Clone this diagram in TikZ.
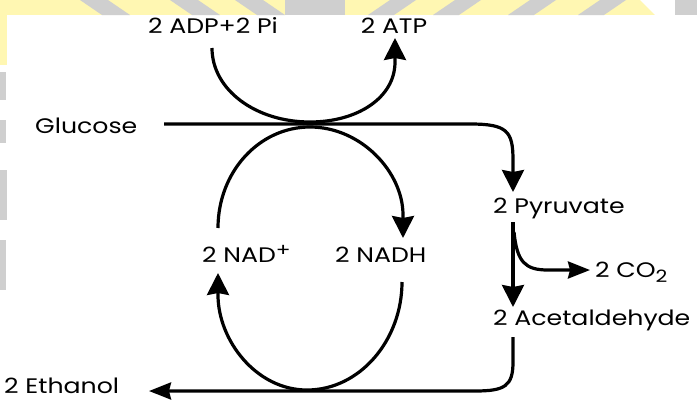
\documentclass[tikz,border=0pt]{standalone}
\usepackage{fontspec}
\setmainfont{Poppins}[FakeStretch=1.2]
\usetikzlibrary{arrows.meta}
\definecolor{wmy}{HTML}{FFF7B2}
\definecolor{wmg}{HTML}{CFCFCF}
\begin{document}
\begin{tikzpicture}[x=1pt,y=-1pt,
  lbl/.style={inner sep=0pt, font=\fontsize{21}{24}\selectfont},
  flow/.style={line width=3.2pt, -{Stealth[length=22pt,width=22pt,inset=2pt]}},
  flown/.style={line width=3.2pt, -{Stealth[length=22pt,width=17pt,inset=2pt]}}]
\useasboundingbox (0,0) rectangle (697,400);
\fill[white] (0,0) rectangle (697,400);
% watermark band
\begin{scope}
\clip (0,0) rectangle (697,15);
\fill[wmy] (0,0) rectangle (697,15);
\foreach \a in {80,170,235}{\fill[wmg] (\a,0) -- (\a+28,0) -- (\a+50,15) -- (\a+22,15) -- cycle;}
\fill[wmg] (285,0) rectangle (345,15);
\foreach \a in {390,455,530,600}{\fill[wmg] (\a,0) -- (\a+26,0) -- (\a+4,15) -- (\a-22,15) -- cycle;}
\fill[white] (640,0) -- (675,0) -- (690,15) -- (655,15) -- cycle;
\fill[wmg] (675,0) rectangle (697,15);
\end{scope}
\fill[wmy] (0,15) rectangle (7,65);
\fill[wmg] (0,72) rectangle (6,100);
\fill[wmg] (0,120) rectangle (6,143);
\fill[wmg] (0,170) rectangle (7,220);
\fill[wmg] (0,240) rectangle (6,290);
% labels
\node[lbl, anchor=base] (adp) at (213,33) {2 ADP+2 Pi};
\node[lbl, anchor=base] (atp) at (394,33) {2 ATP};
\node[lbl, anchor=base west] (glc) at (35,133) {Glucose};
\node[lbl, anchor=base west] (pyr) at (493,213) {2 Pyruvate};
\node[lbl, anchor=base west] (co2) at (595,277) {2 CO\raisebox{-5pt}{\fontsize{17}{17}\selectfont 2}};
\node[lbl, anchor=base west] (ace) at (493,325) {2 Acetaldehyde};
\node[lbl, anchor=base west] (nad) at (202,262) {2 NAD\raisebox{6pt}{\fontsize{18}{18}\selectfont +}};
\node[lbl, anchor=base west] (nadh) at (335,262) {2 NADH};
\node[lbl, anchor=base west] (eth) at (4,393) {2 Ethanol};
% connector ends
\coordinate (adpS) at (212,48);
\coordinate (atpS) at (395,38);
\coordinate (glcE) at (164,124);
\coordinate (pyrN) at (513,192);
\coordinate (pyrS) at (513,222);
\coordinate (aceN) at (513,307);
\coordinate (co2W) at (590,270);
\coordinate (aceS) at (513,337);
\coordinate (ethE) at (149,391);
\coordinate (nadT) at (218,228);
\coordinate (nadhN) at (403,238);
\coordinate (nadhS) at (402,282);
\coordinate (nadB) at (218,273);
% connectors
\draw[flow] (adpS) .. controls (212,90) and (256,122) .. (310,122)
  .. controls (357,122) and (395,98) .. (395,62) -- (atpS);
\draw[flow] (glcE) -- (470,124) .. controls (507,124) and (513,131) .. (513,160) -- (pyrN);
\draw[flow] (nadT) .. controls (218,172) and (259,127) .. (310,127)
  .. controls (361,127) and (403,172) .. (403,215) -- (nadhN);
\draw[flow] (nadhS) .. controls (402,340) and (360,390) .. (307,390)
  .. controls (256,390) and (218,340) .. (218,295) -- (nadB);
\draw[flow] (pyrS) -- (aceN);
\draw[flown] (514,232) .. controls (517,262) and (525,270) .. (548,270) -- (co2W);
\draw[flown] (aceS) -- (513,362) .. controls (513,386) and (505,391) .. (475,391) -- (ethE);
\end{tikzpicture}
\end{document}
